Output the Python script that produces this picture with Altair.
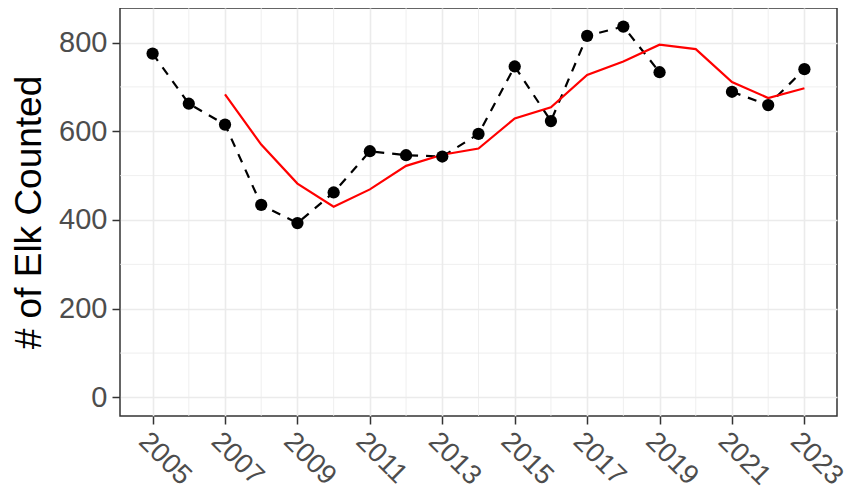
import altair as alt
import pandas as pd

years = list(range(2005, 2024))
counts = [775, 662, 615, 434, 393, 462, 555, 546, 543, 594, 746, 623, 815, 836, 733, None, 689, 659, 740]
avg_years = list(range(2007, 2024))
avg_vals = [683, 570, 482, 430, 469, 522, 547, 561, 629, 654, 727, 757, 795, 785, 711, 675, 697]
major_x = [2005, 2007, 2009, 2011, 2013, 2015, 2017, 2019, 2021, 2023]
minor_x = [2006, 2008, 2010, 2012, 2014, 2016, 2018, 2020, 2022]
major_y = [0, 200, 400, 600, 800]
minor_y = [100, 300, 500, 700]

# segment id so the dashed line breaks at the missing year
seg = []
s = 0
for c in counts:
    if c is None:
        s += 1
    seg.append(s)
df = pd.DataFrame({"year": years, "count": counts, "seg": seg})
df_pts = df.dropna()
df_avg = pd.DataFrame({"year": avg_years, "avg": avg_vals})

xscale = alt.Scale(domain=[2004.1, 2023.9], nice=False, zero=False)
yscale = alt.Scale(domain=[-41.8, 877.8], nice=False, zero=False)

xaxis = alt.Axis(values=major_x, format="d", labelAngle=45, labelAlign="left",
                 labelBaseline="top", labelPadding=3, labelFontSize=27.5, title=None)
yaxis = alt.Axis(values=major_y, title="# of Elk Counted", titlePadding=10,
                 labelFontSize=29, labelPadding=5)

minor_v = alt.Chart(pd.DataFrame({"x": minor_x})).mark_rule(
    color="#EBEBEB", strokeWidth=0.8
).encode(x=alt.X("x:Q", scale=xscale, axis=xaxis))
minor_h = alt.Chart(pd.DataFrame({"y": minor_y})).mark_rule(
    color="#EBEBEB", strokeWidth=0.8
).encode(y=alt.Y("y:Q", scale=yscale, axis=yaxis))

dashed = alt.Chart(df_pts).mark_line(
    color="black", strokeWidth=2.2, strokeDash=[9, 8]
).encode(
    x=alt.X("year:Q", scale=xscale, axis=xaxis),
    y=alt.Y("count:Q", scale=yscale, axis=yaxis),
    detail="seg:N",
)
points = alt.Chart(df_pts).mark_circle(color="black", size=150, opacity=1).encode(
    x=alt.X("year:Q", scale=xscale, axis=xaxis),
    y=alt.Y("count:Q", scale=yscale, axis=yaxis),
)
avg = alt.Chart(df_avg).mark_line(color="#FF0000", strokeWidth=2.2).encode(
    x=alt.X("year:Q", scale=xscale, axis=xaxis),
    y=alt.Y("avg:Q", scale=yscale, axis=yaxis),
)

chart = alt.layer(minor_v, minor_h, dashed, avg, points).properties(
    width=717, height=408,
    autosize=alt.AutoSizeParams(type="none"),
    padding={"left": 112, "top": 0, "right": 13, "bottom": 74},
).configure_view(
    stroke="#333333", strokeWidth=1.5
).configure_axis(
    domain=False,
    grid=True, gridColor="#EBEBEB", gridWidth=1.6,
    tickColor="#333333", tickWidth=1.5, tickSize=8,
    labelFont="Liberation Sans", labelColor="#4D4D4D",
    titleFont="Liberation Sans", titleFontSize=37, titleColor="black",
    titleFontWeight="normal",
)

chart.save("out.html", embed_options={"renderer": "svg", "actions": False})
